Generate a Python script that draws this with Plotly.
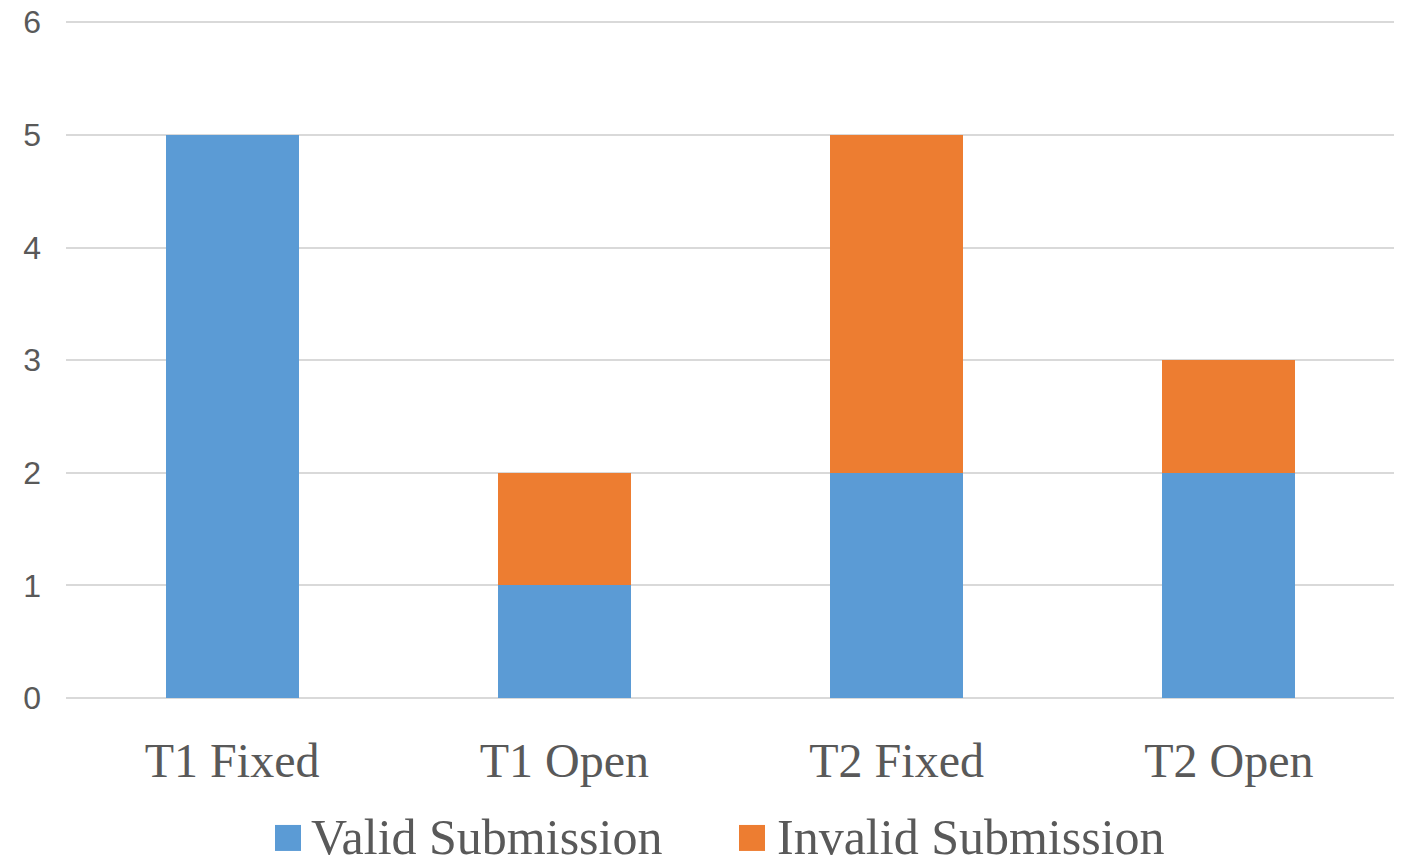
import plotly.graph_objects as go

categories = ["T1 Fixed", "T1 Open", "T2 Fixed", "T2 Open"]
valid = [5, 1, 2, 2]
invalid = [0, 1, 3, 1]
series_names = ["Valid Submission", "Invalid Submission"]
colors = ["#5B9BD5", "#ED7D31"]
y_ticks = [0, 1, 2, 3, 4, 5, 6]

OFF = 8  # page body margin
YMAX = 6.02
W, H = 1402 - OFF, 858 - OFF
# reference plot area: x 66..1395, 0 at y=698, 6 at y=22
unit = (698 - 22) / 6.0
top_px = 698 - YMAX * unit
L, T = 66 - OFF, top_px - OFF
R = W - (1395 - OFF)
B = H - (698 - OFF)
pw, ph = W - L - R, H - T - B

def px_x(px):
    return (px - OFF - L) / pw

def px_y(py):
    return (H - B - (py - OFF)) / ph

fig = go.Figure()
for name, vals, col in zip(series_names, [valid, invalid], colors):
    fig.add_trace(go.Bar(x=categories, y=vals, name=name, marker=dict(color=col, line=dict(width=0)),
                         width=0.4, showlegend=False))

fig.update_layout(
    barmode="stack",
    width=W, height=H,
    margin=dict(l=L, r=R, t=T, b=B, pad=0, autoexpand=False),
    plot_bgcolor="white", paper_bgcolor="white",
    xaxis=dict(tickfont=dict(family="Liberation Serif", size=48, color="#595959"),
               showgrid=False, showline=False, ticks="", ticklabelstandoff=30, automargin=False),
    yaxis=dict(range=[0, YMAX], tickvals=y_ticks, showgrid=True, gridcolor="#D9D9D9", gridwidth=2,
               zeroline=True, zerolinecolor="#D9D9D9", zerolinewidth=2,
               tickfont=dict(family="Liberation Sans", size=32, color="#595959"),
               ticks="", ticklabelstandoff=24, ticklabeloverflow="allow", automargin=False),
)

legend_items = [(series_names[0], colors[0], 275, 309), (series_names[1], colors[1], 739, 775)]
for name, col, mx, tx in legend_items:
    fig.add_shape(type="rect", xref="paper", yref="paper",
                  x0=px_x(mx), x1=px_x(mx + 26), y0=px_y(851), y1=px_y(825),
                  fillcolor=col, line=dict(width=0))
    fig.add_annotation(xref="paper", yref="paper", x=px_x(tx), y=px_y(837), xanchor="left", yanchor="middle",
                       text=name, showarrow=False,
                       font=dict(family="Liberation Serif", size=50, color="#595959"))

fig.write_html("out.html")
